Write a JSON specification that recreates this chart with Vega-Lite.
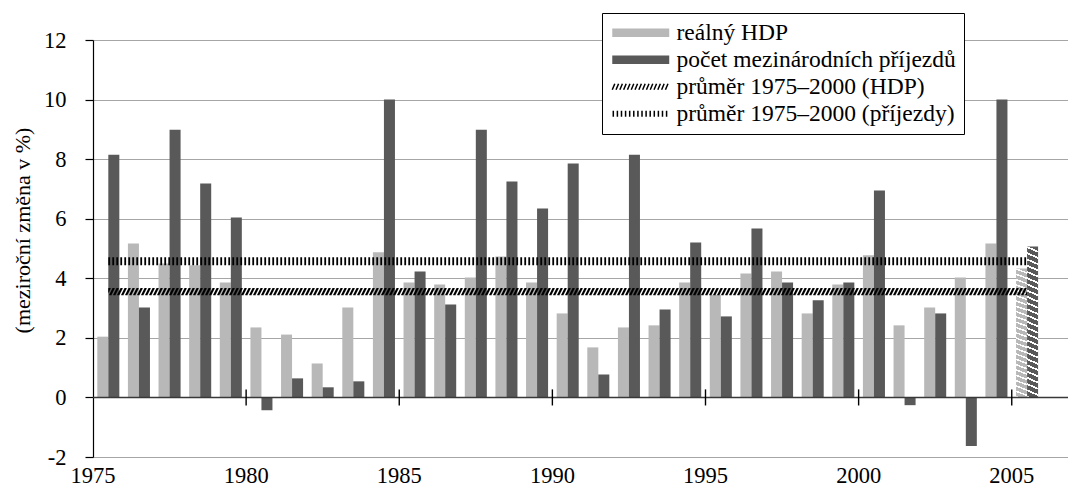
{
  "$schema": "https://vega.github.io/schema/vega-lite/v6.json",
  "autosize": "none",
  "padding": {"left": 93, "top": 40, "right": 0, "bottom": 29},
  "width": 980,
  "height": 417,
  "config": {
    "font": "Liberation Serif",
    "view": {"stroke": null},
    "axis": {"labelFont": "Liberation Serif", "titleFont": "Liberation Serif", "labelColor": "black", "titleColor": "black"}
  },
  "datasets": {
    "bars": [
      {"year": 1975, "series": "reálný HDP", "value": 2.04}, {"year": 1975, "series": "počet mezinárodních příjezdů", "value": 8.15},
      {"year": 1976, "series": "reálný HDP", "value": 5.17}, {"year": 1976, "series": "počet mezinárodních příjezdů", "value": 3.02},
      {"year": 1977, "series": "reálný HDP", "value": 4.5}, {"year": 1977, "series": "počet mezinárodních příjezdů", "value": 8.99},
      {"year": 1978, "series": "reálný HDP", "value": 4.44}, {"year": 1978, "series": "počet mezinárodních příjezdů", "value": 7.18},
      {"year": 1979, "series": "reálný HDP", "value": 3.86}, {"year": 1979, "series": "počet mezinárodních příjezdů", "value": 6.04},
      {"year": 1980, "series": "reálný HDP", "value": 2.35}, {"year": 1980, "series": "počet mezinárodních příjezdů", "value": -0.43},
      {"year": 1981, "series": "reálný HDP", "value": 2.11}, {"year": 1981, "series": "počet mezinárodních příjezdů", "value": 0.64},
      {"year": 1982, "series": "reálný HDP", "value": 1.14}, {"year": 1982, "series": "počet mezinárodních příjezdů", "value": 0.34},
      {"year": 1983, "series": "reálný HDP", "value": 3.02}, {"year": 1983, "series": "počet mezinárodních příjezdů", "value": 0.54},
      {"year": 1984, "series": "reálný HDP", "value": 4.87}, {"year": 1984, "series": "počet mezinárodních příjezdů", "value": 10.0},
      {"year": 1985, "series": "reálný HDP", "value": 3.86}, {"year": 1985, "series": "počet mezinárodních příjezdů", "value": 4.23},
      {"year": 1986, "series": "reálný HDP", "value": 3.79}, {"year": 1986, "series": "počet mezinárodních příjezdů", "value": 3.12},
      {"year": 1987, "series": "reálný HDP", "value": 4.03}, {"year": 1987, "series": "počet mezinárodních příjezdů", "value": 8.99},
      {"year": 1988, "series": "reálný HDP", "value": 4.73}, {"year": 1988, "series": "počet mezinárodních příjezdů", "value": 7.25},
      {"year": 1989, "series": "reálný HDP", "value": 3.86}, {"year": 1989, "series": "počet mezinárodních příjezdů", "value": 6.34},
      {"year": 1990, "series": "reálný HDP", "value": 2.82}, {"year": 1990, "series": "počet mezinárodních příjezdů", "value": 7.85},
      {"year": 1991, "series": "reálný HDP", "value": 1.68}, {"year": 1991, "series": "počet mezinárodních příjezdů", "value": 0.77},
      {"year": 1992, "series": "reálný HDP", "value": 2.35}, {"year": 1992, "series": "počet mezinárodních příjezdů", "value": 8.15},
      {"year": 1993, "series": "reálný HDP", "value": 2.42}, {"year": 1993, "series": "počet mezinárodních příjezdů", "value": 2.95},
      {"year": 1994, "series": "reálný HDP", "value": 3.86}, {"year": 1994, "series": "počet mezinárodních příjezdů", "value": 5.2},
      {"year": 1995, "series": "reálný HDP", "value": 3.45}, {"year": 1995, "series": "počet mezinárodních příjezdů", "value": 2.72},
      {"year": 1996, "series": "reálný HDP", "value": 4.16}, {"year": 1996, "series": "počet mezinárodních příjezdů", "value": 5.67},
      {"year": 1997, "series": "reálný HDP", "value": 4.23}, {"year": 1997, "series": "počet mezinárodních příjezdů", "value": 3.86},
      {"year": 1998, "series": "reálný HDP", "value": 2.82}, {"year": 1998, "series": "počet mezinárodních příjezdů", "value": 3.26},
      {"year": 1999, "series": "reálný HDP", "value": 3.79}, {"year": 1999, "series": "počet mezinárodních příjezdů", "value": 3.86},
      {"year": 2000, "series": "reálný HDP", "value": 4.77}, {"year": 2000, "series": "počet mezinárodních příjezdů", "value": 6.95},
      {"year": 2001, "series": "reálný HDP", "value": 2.42}, {"year": 2001, "series": "počet mezinárodních příjezdů", "value": -0.26},
      {"year": 2002, "series": "reálný HDP", "value": 3.02}, {"year": 2002, "series": "počet mezinárodních příjezdů", "value": 2.82},
      {"year": 2003, "series": "reálný HDP", "value": 4.03}, {"year": 2003, "series": "počet mezinárodních příjezdů", "value": -1.63},
      {"year": 2004, "series": "reálný HDP", "value": 5.17}, {"year": 2004, "series": "počet mezinárodních příjezdů", "value": 10.0},
      {"year": 2005, "series": "reálný HDP", "value": 4.33}, {"year": 2005, "series": "počet mezinárodních příjezdů", "value": 5.07}
    ],
    "ticks": [{"year": 1980}, {"year": 1985}, {"year": 1990}, {"year": 1995}, {"year": 2000}, {"year": 2005}],
    "meanH": [{"year": 1975, "avg": 3.55}, {"year": 2005, "avg": 3.55}],
    "meanP": [{"year": 1975, "avg": 4.57}, {"year": 2005, "avg": 4.57}]
  },
  "layer": [
    {
      "data": {"name": "bars"},
      "mark": {"type": "bar"},
      "encoding": {
        "x": {
          "field": "year", "type": "ordinal",
          "scale": {"domain": [1975,1976,1977,1978,1979,1980,1981,1982,1983,1984,1985,1986,1987,1988,1989,1990,1991,1992,1993,1994,1995,1996,1997,1998,1999,2000,2001,2002,2003,2004,2005,2006], "paddingInner": 0, "paddingOuter": 0},
          "axis": {"title": null, "values": [1975,1980,1985,1990,1995,2000,2005], "bandPosition": 0, "labelOffset": -15.3, "ticks": false, "tickSize": 0, "domain": false, "grid": false, "labelAngle": 0, "labelFont": "Liberation Serif", "labelColor": "black", "labelFontSize": 22.5, "labelPadding": 7}
        },
        "xOffset": {
          "field": "series", "type": "nominal",
          "scale": {"domain": ["reálný HDP", "počet mezinárodních příjezdů"], "paddingInner": 0, "paddingOuter": 0.39}
        },
        "y": {
          "field": "value", "type": "quantitative",
          "scale": {"domain": [-2, 12], "nice": false, "zero": false},
          "axis": {
            "title": "(meziroční změna v %)", "values": [-2,0,2,4,6,8,10,12],
            "grid": true, "gridColor": "#a6a6a6", "gridWidth": 1.2,
            "domainColor": "black", "domainWidth": 1.2, "tickColor": "black", "tickWidth": 1.2, "tickSize": 8,
            "labelPadding": 19, "labelFontSize": 22.5, "labelFont": "Liberation Serif", "labelColor": "black",
            "labelExpr": "replace(datum.label, '−', '-')",
            "titleFont": "Liberation Serif", "titleColor": "black",
            "titleFontSize": 22, "titleFontWeight": "normal", "titleX": -71, "titleY": 190, "titleAngle": -90, "titleAlign": "center", "titleBaseline": "middle"
          }
        },
        "color": {
          "field": "series", "type": "nominal",
          "scale": {"domain": ["reálný HDP", "počet mezinárodních příjezdů", "průměr 1975–2000 (HDP)", "průměr 1975–2000 (příjezdy)"], "range": ["#b8b8b8", "#595959", "#000000", "#000000"]},
          "legend": {
            "title": null, "orient": "none", "legendX": 509, "legendY": -27, "padding": 8,
            "strokeColor": "black", "fillColor": "white",
            "labelFont": "Liberation Serif", "labelFontSize": 23.5, "labelColor": "black", "labelLimit": 500,
            "symbolSize": 81, "symbolStrokeWidth": 1.5, "symbolOffset": 19, "labelOffset": 24, "rowPadding": 2,
            "encode": {
              "symbols": {
                "update": {
                  "shape": {"signal": "datum.index == 2 ? 'M-6.33,0.67l0.56,-1.33M-5.49,0.67l0.56,-1.33M-4.64,0.67l0.56,-1.33M-3.8,0.67l0.56,-1.33M-2.95,0.67l0.56,-1.33M-2.11,0.67l0.56,-1.33M-1.27,0.67l0.56,-1.33M-0.42,0.67l0.56,-1.33M0.42,0.67l0.56,-1.33M1.27,0.67l0.56,-1.33M2.11,0.67l0.56,-1.33M2.95,0.67l0.56,-1.33M3.8,0.67l0.56,-1.33M4.64,0.67l0.56,-1.33M5.49,0.67l0.56,-1.33' : datum.index == 3 ? 'M-6.1,-0.67v1.33M-5.19,-0.67v1.33M-4.28,-0.67v1.33M-3.37,-0.67v1.33M-2.46,-0.67v1.33M-1.55,-0.67v1.33M-0.63,-0.67v1.33M0.28,-0.67v1.33M1.19,-0.67v1.33M2.1,-0.67v1.33M3.01,-0.67v1.33M3.92,-0.67v1.33M4.83,-0.67v1.33M5.74,-0.67v1.33' : 'M-6.33,-0.95H6.33V0.95H-6.33Z'"},
                  "fill": {"signal": "datum.index == 0 ? '#c2c2c2' : datum.index == 1 ? '#595959' : 'transparent'"},
                  "stroke": {"signal": "datum.index >= 2 ? 'black' : 'transparent'"},
                  "opacity": {"value": 1}
                }
              }
            }
          }
        }
      }
    },
    {
      "data": {"name": "bars"},
      "transform": [{"filter": "datum.year == 2005"}],
      "mark": {
        "type": "bar",
        "fill": {
          "gradient": "linear", "x1": 1, "y1": 0, "x2": 0.9676, "y2": 1.0304,
          "stops": [
            {"offset": 0, "color": "rgba(255,255,255,0)"}, {"offset": 0.028, "color": "rgba(255,255,255,0)"}, {"offset": 0.028, "color": "#ffffff"}, {"offset": 0.04, "color": "#ffffff"},
            {"offset": 0.04, "color": "rgba(255,255,255,0)"}, {"offset": 0.068, "color": "rgba(255,255,255,0)"}, {"offset": 0.068, "color": "#ffffff"}, {"offset": 0.08, "color": "#ffffff"},
            {"offset": 0.08, "color": "rgba(255,255,255,0)"}, {"offset": 0.108, "color": "rgba(255,255,255,0)"}, {"offset": 0.108, "color": "#ffffff"}, {"offset": 0.12, "color": "#ffffff"},
            {"offset": 0.12, "color": "rgba(255,255,255,0)"}, {"offset": 0.148, "color": "rgba(255,255,255,0)"}, {"offset": 0.148, "color": "#ffffff"}, {"offset": 0.16, "color": "#ffffff"},
            {"offset": 0.16, "color": "rgba(255,255,255,0)"}, {"offset": 0.188, "color": "rgba(255,255,255,0)"}, {"offset": 0.188, "color": "#ffffff"}, {"offset": 0.2, "color": "#ffffff"},
            {"offset": 0.2, "color": "rgba(255,255,255,0)"}, {"offset": 0.228, "color": "rgba(255,255,255,0)"}, {"offset": 0.228, "color": "#ffffff"}, {"offset": 0.24, "color": "#ffffff"},
            {"offset": 0.24, "color": "rgba(255,255,255,0)"}, {"offset": 0.268, "color": "rgba(255,255,255,0)"}, {"offset": 0.268, "color": "#ffffff"}, {"offset": 0.28, "color": "#ffffff"},
            {"offset": 0.28, "color": "rgba(255,255,255,0)"}, {"offset": 0.308, "color": "rgba(255,255,255,0)"}, {"offset": 0.308, "color": "#ffffff"}, {"offset": 0.32, "color": "#ffffff"},
            {"offset": 0.32, "color": "rgba(255,255,255,0)"}, {"offset": 0.348, "color": "rgba(255,255,255,0)"}, {"offset": 0.348, "color": "#ffffff"}, {"offset": 0.36, "color": "#ffffff"},
            {"offset": 0.36, "color": "rgba(255,255,255,0)"}, {"offset": 0.388, "color": "rgba(255,255,255,0)"}, {"offset": 0.388, "color": "#ffffff"}, {"offset": 0.4, "color": "#ffffff"},
            {"offset": 0.4, "color": "rgba(255,255,255,0)"}, {"offset": 0.428, "color": "rgba(255,255,255,0)"}, {"offset": 0.428, "color": "#ffffff"}, {"offset": 0.44, "color": "#ffffff"},
            {"offset": 0.44, "color": "rgba(255,255,255,0)"}, {"offset": 0.468, "color": "rgba(255,255,255,0)"}, {"offset": 0.468, "color": "#ffffff"}, {"offset": 0.48, "color": "#ffffff"},
            {"offset": 0.48, "color": "rgba(255,255,255,0)"}, {"offset": 0.508, "color": "rgba(255,255,255,0)"}, {"offset": 0.508, "color": "#ffffff"}, {"offset": 0.52, "color": "#ffffff"},
            {"offset": 0.52, "color": "rgba(255,255,255,0)"}, {"offset": 0.548, "color": "rgba(255,255,255,0)"}, {"offset": 0.548, "color": "#ffffff"}, {"offset": 0.56, "color": "#ffffff"},
            {"offset": 0.56, "color": "rgba(255,255,255,0)"}, {"offset": 0.588, "color": "rgba(255,255,255,0)"}, {"offset": 0.588, "color": "#ffffff"}, {"offset": 0.6, "color": "#ffffff"},
            {"offset": 0.6, "color": "rgba(255,255,255,0)"}, {"offset": 0.628, "color": "rgba(255,255,255,0)"}, {"offset": 0.628, "color": "#ffffff"}, {"offset": 0.64, "color": "#ffffff"},
            {"offset": 0.64, "color": "rgba(255,255,255,0)"}, {"offset": 0.668, "color": "rgba(255,255,255,0)"}, {"offset": 0.668, "color": "#ffffff"}, {"offset": 0.68, "color": "#ffffff"},
            {"offset": 0.68, "color": "rgba(255,255,255,0)"}, {"offset": 0.708, "color": "rgba(255,255,255,0)"}, {"offset": 0.708, "color": "#ffffff"}, {"offset": 0.72, "color": "#ffffff"},
            {"offset": 0.72, "color": "rgba(255,255,255,0)"}, {"offset": 0.748, "color": "rgba(255,255,255,0)"}, {"offset": 0.748, "color": "#ffffff"}, {"offset": 0.76, "color": "#ffffff"},
            {"offset": 0.76, "color": "rgba(255,255,255,0)"}, {"offset": 0.788, "color": "rgba(255,255,255,0)"}, {"offset": 0.788, "color": "#ffffff"}, {"offset": 0.8, "color": "#ffffff"},
            {"offset": 0.8, "color": "rgba(255,255,255,0)"}, {"offset": 0.828, "color": "rgba(255,255,255,0)"}, {"offset": 0.828, "color": "#ffffff"}, {"offset": 0.84, "color": "#ffffff"},
            {"offset": 0.84, "color": "rgba(255,255,255,0)"}, {"offset": 0.868, "color": "rgba(255,255,255,0)"}, {"offset": 0.868, "color": "#ffffff"}, {"offset": 0.88, "color": "#ffffff"},
            {"offset": 0.88, "color": "rgba(255,255,255,0)"}, {"offset": 0.908, "color": "rgba(255,255,255,0)"}, {"offset": 0.908, "color": "#ffffff"}, {"offset": 0.92, "color": "#ffffff"},
            {"offset": 0.92, "color": "rgba(255,255,255,0)"}, {"offset": 0.948, "color": "rgba(255,255,255,0)"}, {"offset": 0.948, "color": "#ffffff"}, {"offset": 0.96, "color": "#ffffff"},
            {"offset": 0.96, "color": "rgba(255,255,255,0)"}, {"offset": 0.988, "color": "rgba(255,255,255,0)"}, {"offset": 0.988, "color": "#ffffff"}, {"offset": 1, "color": "#ffffff"}
          ]
        }
      },
      "encoding": {
        "x": {"field": "year", "type": "ordinal"},
        "xOffset": {"field": "series", "type": "nominal"},
        "y": {"field": "value", "type": "quantitative"}
      }
    },
    {
      "data": {"values": [{}]},
      "mark": {"type": "rule", "color": "#383838", "strokeWidth": 1.6},
      "encoding": {"y": {"datum": 0}}
    },
    {
      "data": {"name": "ticks"},
      "mark": {"type": "rule", "color": "black", "strokeWidth": 1.4},
      "encoding": {
        "x": {"field": "year", "type": "ordinal", "bandPosition": 0},
        "y": {"datum": -0.27},
        "y2": {"datum": 0.27}
      }
    },
    {
      "data": {"name": "meanP"},
      "mark": {"type": "line", "color": "black", "strokeWidth": 8, "strokeDash": [1.8, 2.2]},
      "encoding": {"x": {"field": "year", "type": "ordinal"}, "y": {"field": "avg", "type": "quantitative"}}
    },
    {
      "data": {"name": "meanH"},
      "mark": {"type": "line", "color": "black", "strokeWidth": 1.15, "strokeDash": [2.3, 1.7], "strokeDashOffset": 0, "yOffset": -3},
      "encoding": {"x": {"field": "year", "type": "ordinal"}, "y": {"field": "avg", "type": "quantitative"}}
    },
    {
      "data": {"name": "meanH"},
      "mark": {"type": "line", "color": "black", "strokeWidth": 1.15, "strokeDash": [2.3, 1.7], "strokeDashOffset": 0.5, "yOffset": -2},
      "encoding": {"x": {"field": "year", "type": "ordinal"}, "y": {"field": "avg", "type": "quantitative"}}
    },
    {
      "data": {"name": "meanH"},
      "mark": {"type": "line", "color": "black", "strokeWidth": 1.15, "strokeDash": [2.3, 1.7], "strokeDashOffset": 1, "yOffset": -1},
      "encoding": {"x": {"field": "year", "type": "ordinal"}, "y": {"field": "avg", "type": "quantitative"}}
    },
    {
      "data": {"name": "meanH"},
      "mark": {"type": "line", "color": "black", "strokeWidth": 1.15, "strokeDash": [2.3, 1.7], "strokeDashOffset": 1.5, "yOffset": 0},
      "encoding": {"x": {"field": "year", "type": "ordinal"}, "y": {"field": "avg", "type": "quantitative"}}
    },
    {
      "data": {"name": "meanH"},
      "mark": {"type": "line", "color": "black", "strokeWidth": 1.15, "strokeDash": [2.3, 1.7], "strokeDashOffset": 2, "yOffset": 1},
      "encoding": {"x": {"field": "year", "type": "ordinal"}, "y": {"field": "avg", "type": "quantitative"}}
    },
    {
      "data": {"name": "meanH"},
      "mark": {"type": "line", "color": "black", "strokeWidth": 1.15, "strokeDash": [2.3, 1.7], "strokeDashOffset": 2.5, "yOffset": 2},
      "encoding": {"x": {"field": "year", "type": "ordinal"}, "y": {"field": "avg", "type": "quantitative"}}
    },
    {
      "data": {"name": "meanH"},
      "mark": {"type": "line", "color": "black", "strokeWidth": 1.15, "strokeDash": [2.3, 1.7], "strokeDashOffset": 3, "yOffset": 3},
      "encoding": {"x": {"field": "year", "type": "ordinal"}, "y": {"field": "avg", "type": "quantitative"}}
    }
  ]
}
